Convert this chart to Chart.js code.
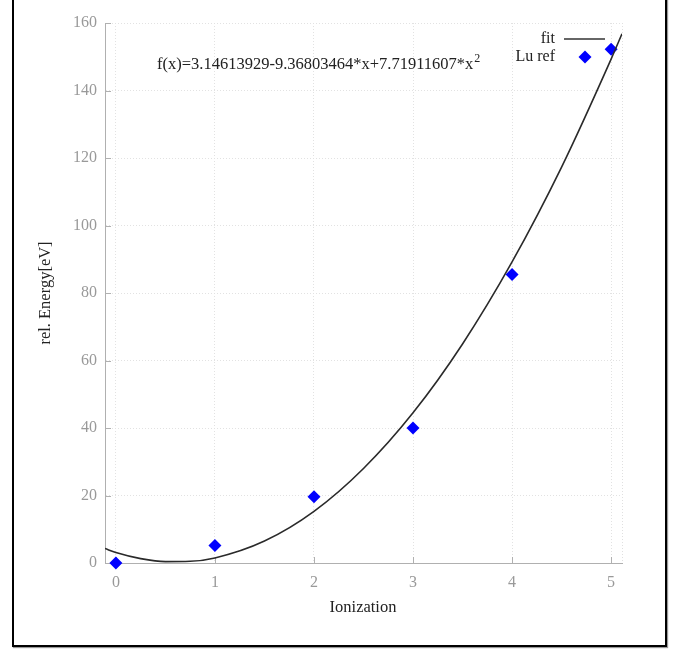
<!DOCTYPE html>
<html>
<head>
<meta charset="utf-8">
<script src="https://cdn.jsdelivr.net/npm/chart.js"></script>
<style>
  html, body { margin: 0; padding: 0; background: #fff; overflow: hidden; }
  #frame {
    position: absolute; left: 12px; top: -5px; width: 655px; height: 652px;
    box-sizing: border-box; border: 2px solid #000; box-shadow: 1px 1px 1px #999;
  }
  #c { position: absolute; left: 0; top: 0; }
</style>
</head>
<body>
<div id="frame"></div>
<canvas id="c" width="691" height="651"></canvas>
<script>
// 数据
const ionization = [0, 1, 2, 3, 4, 5];
const luRef = [0, 5.2, 19.6, 40.0, 85.5, 152.2];

// 拟合曲线
const fitX = [-0.11, 0, 0.25, 0.5, 0.75, 1, 1.5, 2, 2.5, 3, 3.5, 4, 4.5, 5, 5.11];
const fitY = [4.3, 3.1, 1.3, 0.4, 0.5, 1.5, 6.5, 15.3, 28.0, 44.5, 64.9, 89.2, 117.3, 149.3, 156.8];

const xTicks = [0, 1, 2, 3, 4, 5];
const yTicks = [0, 20, 40, 60, 80, 100, 120, 140, 160];

const fitLabel = 'f(x)=3.14613929-9.36803464*x+7.71911607*x';
const serif = '"Liberation Serif", "Times New Roman", serif';

// 自定义绘制: 内侧刻度, 图例, 公式, 轴标题
const decor = {
  id: 'decor',
  beforeDatasetsDraw(chart) {
    const ctx = chart.ctx;
    const a = chart.chartArea;
    const xs = chart.scales.x, ys = chart.scales.y;
    ctx.save();
    // 右边虚线
    ctx.strokeStyle = '#e0e0e0';
    ctx.lineWidth = 1;
    ctx.setLineDash([1, 2]);
    ctx.beginPath();
    ctx.moveTo(a.right + 0.5, a.top);
    ctx.lineTo(a.right + 0.5, a.bottom);
    ctx.stroke();
    ctx.setLineDash([]);
    // 内侧刻度
    ctx.strokeStyle = '#b0b0b0';
    ctx.beginPath();
    xTicks.forEach(v => {
      let px = Math.round(xs.getPixelForValue(v)) + 0.5;
      ctx.moveTo(px, a.bottom);
      ctx.lineTo(px, a.bottom - 6);
    });
    yTicks.forEach(v => {
      let py = Math.round(ys.getPixelForValue(v)) + 0.5;
      ctx.moveTo(a.left, py);
      ctx.lineTo(a.left + 6, py);
    });
    ctx.stroke();
    ctx.restore();
  },
  afterDraw(chart) {
    const ctx = chart.ctx;
    ctx.save();
    ctx.fillStyle = '#222';
    ctx.font = '16.5px ' + serif;
    ctx.textBaseline = 'middle';

    // 公式
    ctx.textAlign = 'left';
    ctx.fillText(fitLabel, 157, 65);
    let w = ctx.measureText(fitLabel).width;
    ctx.font = '12px ' + serif;
    ctx.fillText('2', 157 + w + 1, 59);

    // 图例
    ctx.font = '16px ' + serif;
    ctx.textAlign = 'right';
    ctx.fillText('fit', 555, 39);
    ctx.fillText('Lu ref', 555, 57);
    ctx.strokeStyle = '#333';
    ctx.lineWidth = 1.5;
    ctx.beginPath();
    ctx.moveTo(564, 39);
    ctx.lineTo(605, 39);
    ctx.stroke();
    ctx.fillStyle = '#0000ff';
    ctx.beginPath();
    ctx.moveTo(585, 50.5);
    ctx.lineTo(591.5, 57);
    ctx.lineTo(585, 63.5);
    ctx.lineTo(578.5, 57);
    ctx.closePath();
    ctx.fill();

    // 轴标题
    ctx.fillStyle = '#222';
    ctx.textAlign = 'center';
    ctx.font = '16.5px ' + serif;
    ctx.fillText('Ionization', 363, 608);
    ctx.translate(46, 293);
    ctx.rotate(-Math.PI / 2);
    ctx.fillText('rel. Energy[eV]', 0, 0);
    ctx.restore();
  }
};

new Chart(document.getElementById('c').getContext('2d'), {
  type: 'scatter',
  data: {
    datasets: [
      {
        label: 'fit',
        type: 'line',
        data: fitX.map((x, i) => ({ x: x, y: fitY[i] })),
        borderColor: '#2a2a2a',
        borderWidth: 1.6,
        pointRadius: 0,
        cubicInterpolationMode: 'monotone',
        fill: false
      },
      {
        label: 'Lu ref',
        data: ionization.map((x, i) => ({ x: x, y: luRef[i] })),
        pointStyle: 'rectRot',
        pointRadius: 6.5,
        pointBackgroundColor: '#0000ff',
        pointBorderWidth: 0,
        clip: false
      }
    ]
  },
  options: {
    responsive: false,
    animation: false,
    layout: { padding: { left: 0, top: 23, right: 69, bottom: 0 } },
    plugins: { legend: { display: false }, tooltip: { enabled: false } },
    scales: {
      x: {
        type: 'linear',
        min: -0.11,
        max: 5.11,
        afterBuildTicks: s => { s.ticks = xTicks.map(v => ({ value: v })); },
        afterFit: s => { s.height = 88; },
        ticks: { color: '#999', font: { family: serif, size: 16 }, padding: 10, maxRotation: 0 },
        grid: { color: '#e2e2e2', drawTicks: false },
        border: { color: '#b0b0b0', width: 1, dash: [1, 2] }
      },
      y: {
        min: 0,
        max: 160,
        afterBuildTicks: s => { s.ticks = yTicks.map(v => ({ value: v })); },
        afterFit: s => { s.width = 105; },
        ticks: { color: '#999', font: { family: serif, size: 16 }, padding: 8 },
        grid: { color: '#e2e2e2', drawTicks: false },
        border: { color: '#b0b0b0', width: 1, dash: [1, 2] }
      }
    }
  },
  plugins: [decor]
});
</script>
</body>
</html>
